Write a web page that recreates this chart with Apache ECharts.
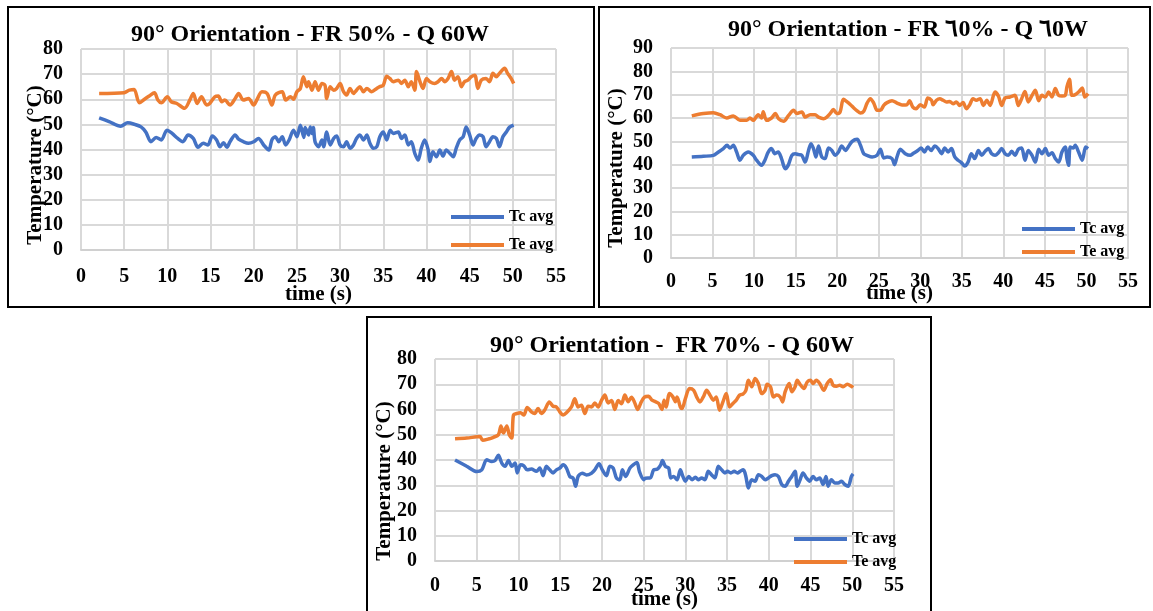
<!DOCTYPE html>
<html>
<head>
<meta charset="utf-8">
<script src="https://cdn.jsdelivr.net/npm/echarts@6/dist/echarts.min.js"></script>
<style>
  html, body { margin: 0; padding: 0; background: #fff; }
  #chart { width: 1153px; height: 611px; }
</style>
</head>
<body>
<div id="chart"></div>
<script>
// Panel titles
const titles = [
  '90° Orientation - FR 50% - Q 60W',
  '90° Orientation - FR ٦0% - Q ٦0W',
  '90° Orientation -  FR 70% - Q 60W'
];
const seriesNames = ['Tc avg', 'Te avg'];
const xTicks = { min: 0, max: 55, step: 5 };
const yMax = [80, 90, 80];

// FR 50% : [time (s), temperature (°C)]
const fr50Tc = [[2.1,52.6],[3.25,51.1],[4.6,49.3],[5.4,50.6],[6.2,50.0],[6.95,49.0],[7.5,47.0],[8.1,43.1],[8.7,44.8],[9.3,43.8],[9.95,47.7],[10.55,46.4],[11.2,44.4],[11.8,43.1],[12.4,45.8],[13.0,44.4],[13.55,40.9],[14.15,42.5],[14.7,41.8],[15.2,45.4],[15.7,43.8],[16.1,41.1],[16.5,42.7],[16.9,40.9],[17.25,43.1],[17.85,45.8],[18.25,44.1],[18.8,43.1],[19.4,42.5],[20.0,43.1],[20.55,44.4],[21.15,41.8],[21.75,39.8],[22.1,43.8],[22.5,45.1],[22.9,43.1],[23.3,45.1],[23.7,41.8],[24.1,43.8],[24.6,47.7],[25.0,45.1],[25.4,49.7],[25.8,44.8],[25.95,48.8],[26.35,45.8],[26.55,49.0],[26.75,46.4],[26.9,48.8],[27.1,43.1],[27.5,41.1],[27.9,43.8],[28.1,41.1],[28.45,47.0],[28.85,41.8],[29.25,44.4],[29.6,45.4],[30.0,41.8],[30.4,41.1],[30.75,43.1],[31.15,40.5],[31.55,41.8],[31.9,44.4],[32.3,45.8],[32.7,43.8],[33.1,45.8],[33.45,42.5],[33.85,40.5],[34.25,41.1],[34.6,45.1],[35.0,47.0],[35.4,43.8],[35.8,47.7],[36.15,46.4],[36.75,47.0],[37.1,44.4],[37.5,45.8],[37.9,41.8],[38.25,43.1],[38.65,38.5],[39.05,35.8],[39.4,40.5],[39.8,43.8],[40.2,39.8],[40.4,35.2],[40.75,39.1],[41.15,37.1],[41.55,39.8],[41.9,37.4],[42.3,39.8],[42.7,38.5],[43.1,37.1],[43.45,40.5],[43.85,43.8],[44.25,45.1],[44.6,49.0],[45.0,45.8],[45.4,41.8],[45.75,44.4],[46.15,45.8],[46.55,45.1],[46.9,41.1],[47.3,43.1],[47.7,45.1],[48.1,44.4],[48.45,41.1],[48.85,45.1],[49.25,47.0],[49.6,48.8],[50.1,49.7]];
const fr50Te = [[2.1,62.3],[5.0,62.6],[5.6,63.6],[6.15,63.9],[6.75,58.6],[7.35,60.0],[7.9,61.3],[8.5,62.6],[8.9,59.7],[9.3,58.6],[10.0,61.0],[10.45,59.0],[11.1,58.3],[12.0,56.4],[12.6,59.7],[13.0,62.3],[13.45,58.3],[13.95,61.0],[14.55,57.7],[14.9,58.3],[15.5,61.0],[15.9,61.3],[16.3,59.0],[16.65,59.7],[17.25,57.7],[17.85,60.3],[18.25,62.3],[18.8,59.7],[19.4,60.3],[20.0,57.7],[20.35,59.7],[20.95,63.0],[21.55,62.3],[22.1,57.7],[22.5,61.7],[23.3,63.0],[23.7,59.7],[24.25,61.0],[24.6,60.0],[25.0,63.0],[25.4,64.3],[25.75,69.0],[26.15,65.0],[26.35,67.0],[26.75,63.6],[27.1,67.0],[27.5,63.6],[27.9,66.3],[28.25,65.6],[28.45,60.3],[28.85,65.0],[29.25,63.6],[29.6,64.3],[30.0,66.3],[30.4,63.0],[30.75,61.7],[31.15,64.3],[31.55,62.3],[31.9,63.6],[32.3,65.0],[32.7,63.0],[33.1,64.3],[33.65,63.0],[34.25,64.3],[34.6,65.0],[35.0,65.6],[35.4,69.2],[35.75,68.3],[36.15,67.0],[36.75,67.6],[37.1,66.3],[37.5,67.6],[37.9,65.0],[38.25,67.0],[38.65,63.6],[38.85,71.0],[39.25,67.0],[39.6,64.3],[40.0,68.3],[40.4,67.0],[40.95,66.3],[41.35,67.0],[41.75,68.3],[42.1,67.0],[42.5,68.3],[42.9,71.0],[43.25,67.6],[43.65,69.0],[44.05,65.0],[44.4,67.0],[44.8,67.6],[45.2,69.0],[45.6,69.6],[45.95,64.3],[46.35,67.6],[46.9,68.3],[47.3,67.0],[47.7,70.3],[48.1,69.0],[48.45,70.3],[49.05,72.3],[49.4,70.3],[49.8,68.3],[50.1,66.3]];

// FR ٦0%
const fr60Tc = [[2.5,43.3],[3.9,43.6],[5.1,44.0],[5.7,45.4],[6.3,46.9],[6.75,48.3],[7.1,47.1],[7.5,48.3],[7.9,45.4],[8.3,41.9],[8.7,44.0],[9.3,45.4],[9.9,44.0],[10.3,41.9],[10.9,39.7],[11.3,41.9],[11.7,45.4],[12.1,46.9],[12.5,44.7],[12.9,45.4],[13.3,42.6],[13.75,38.3],[14.1,39.7],[14.55,44.0],[14.95,44.7],[15.35,44.3],[15.75,44.0],[16.15,41.1],[16.55,46.1],[16.85,49.0],[17.15,46.9],[17.45,43.3],[17.75,48.0],[18.15,43.3],[18.55,42.6],[18.95,47.1],[19.35,46.1],[19.75,44.0],[20.15,45.4],[20.55,48.0],[21.0,46.1],[21.4,48.0],[21.8,50.0],[22.4,50.9],[22.8,48.3],[23.2,44.7],[23.6,44.0],[24.2,43.3],[24.8,44.0],[25.2,46.6],[25.6,42.9],[26.0,43.3],[26.6,42.6],[26.9,40.0],[27.2,43.3],[27.6,46.6],[28.2,44.7],[28.8,44.0],[29.1,44.7],[29.7,46.1],[30.1,47.1],[30.5,45.4],[30.9,47.6],[31.3,46.1],[31.75,48.0],[32.15,46.9],[32.55,44.7],[32.95,47.1],[33.35,45.4],[33.75,46.9],[34.15,43.3],[34.55,41.9],[34.95,40.9],[35.35,39.4],[35.75,41.1],[36.15,44.7],[36.55,42.6],[37.0,46.1],[37.4,44.0],[37.8,45.7],[38.2,46.9],[38.6,44.7],[39.0,44.0],[39.4,45.1],[39.8,46.9],[40.2,44.7],[40.6,44.0],[41.0,45.7],[41.4,44.0],[41.8,46.6],[42.2,47.1],[42.6,41.9],[43.0,46.1],[43.45,44.0],[43.85,41.1],[44.25,46.6],[44.65,44.7],[45.05,46.9],[45.45,44.0],[45.85,45.1],[46.25,42.6],[46.65,41.1],[47.05,45.4],[47.45,47.6],[47.65,42.6],[47.85,39.7],[48.05,47.6],[48.4,47.1],[48.65,48.3],[49.05,45.4],[49.5,41.9],[49.9,47.6],[50.2,46.9]];
const fr60Te = [[2.5,60.9],[3.9,61.9],[5.1,62.3],[5.9,61.4],[6.7,60.0],[7.5,60.9],[8.3,59.0],[9.1,59.0],[9.5,60.0],[9.9,59.0],[10.5,61.4],[10.9,60.0],[11.1,62.7],[11.5,59.0],[12.1,60.0],[12.55,61.9],[12.95,59.7],[13.55,58.6],[14.15,61.1],[14.75,63.3],[15.15,61.9],[15.75,62.6],[16.15,60.4],[16.75,61.4],[17.35,61.4],[17.75,60.4],[18.35,59.7],[18.75,60.4],[19.15,61.9],[19.55,63.6],[19.95,61.9],[20.35,62.6],[20.75,68.0],[21.2,66.9],[21.6,65.7],[22.0,64.3],[22.4,63.1],[22.8,62.1],[23.2,62.9],[23.6,66.4],[24.0,68.3],[24.4,66.4],[24.8,63.3],[25.2,63.3],[25.6,65.4],[26.0,66.6],[26.6,67.4],[27.2,66.4],[27.8,65.6],[28.4,65.7],[28.7,67.4],[29.1,64.7],[29.5,64.0],[30.0,65.7],[30.5,64.7],[30.9,68.6],[31.35,67.6],[31.55,65.7],[31.95,67.6],[32.35,68.3],[32.75,67.6],[33.15,66.9],[33.55,67.1],[33.95,66.1],[34.35,66.9],[34.75,65.4],[35.15,66.6],[35.55,64.0],[35.95,65.7],[36.35,68.3],[36.75,67.6],[37.2,68.3],[37.6,65.4],[38.0,67.6],[38.4,65.4],[39.0,71.1],[39.4,69.4],[39.8,65.4],[40.2,68.6],[40.8,69.0],[41.4,69.7],[41.8,65.4],[42.2,68.3],[42.6,71.4],[43.0,66.9],[43.45,69.7],[43.85,71.9],[44.25,67.4],[44.65,69.7],[45.05,69.0],[45.45,71.1],[45.85,69.0],[46.25,72.6],[46.65,69.7],[47.05,69.4],[47.45,69.7],[47.65,73.3],[47.95,76.6],[48.25,69.7],[48.65,70.0],[49.05,71.1],[49.5,72.9],[49.8,69.0],[50.2,70.4]];

// FR 70%
const fr70Tc = [[2.4,40.0],[3.8,37.5],[5.0,35.4],[5.6,36.1],[6.2,40.1],[6.8,39.4],[7.2,39.8],[7.6,41.9],[8.0,38.8],[8.4,37.5],[8.8,39.8],[9.2,37.5],[9.6,38.8],[9.85,34.9],[10.25,38.1],[10.65,37.7],[11.05,36.1],[11.55,36.4],[12.15,35.5],[12.55,36.8],[12.95,33.8],[13.35,37.5],[13.75,36.1],[14.15,34.9],[14.55,36.1],[14.95,36.8],[15.35,38.1],[15.75,36.8],[16.15,33.5],[16.55,32.8],[16.85,29.6],[17.15,33.5],[17.65,34.8],[18.15,34.1],[18.75,34.8],[19.15,36.1],[19.65,38.5],[20.05,36.1],[20.55,33.8],[20.95,37.5],[21.35,36.8],[21.75,32.8],[22.15,32.2],[22.45,36.1],[22.85,33.5],[23.35,36.8],[23.75,38.1],[24.2,39.0],[24.5,35.4],[25.0,32.2],[25.2,32.8],[25.8,32.9],[26.2,36.1],[26.65,36.4],[27.05,38.1],[27.25,39.8],[27.6,37.5],[28.0,36.8],[28.25,32.9],[28.6,33.5],[29.0,32.2],[29.4,36.1],[29.7,33.5],[30.0,31.6],[30.4,33.5],[30.8,32.2],[31.2,33.2],[31.55,32.2],[31.95,32.9],[32.35,32.2],[32.75,35.5],[33.15,34.1],[33.55,32.9],[33.95,37.5],[34.35,36.1],[34.75,34.9],[35.05,35.5],[35.45,34.9],[35.85,35.5],[36.25,34.9],[36.55,35.5],[36.95,36.1],[37.25,33.5],[37.55,28.9],[37.95,32.2],[38.35,31.6],[38.75,34.2],[39.15,33.5],[39.55,32.2],[39.95,32.9],[40.35,33.8],[40.75,34.2],[41.15,33.5],[41.55,30.3],[41.95,29.6],[42.35,31.6],[42.75,33.5],[43.15,35.5],[43.4,29.6],[43.75,32.2],[44.1,34.9],[44.5,32.9],[44.9,31.6],[45.3,33.5],[45.7,32.2],[46.1,32.9],[46.5,30.3],[46.85,33.5],[47.1,29.6],[47.5,32.2],[47.9,30.9],[48.3,30.9],[48.7,31.6],[49.1,30.3],[49.5,29.6],[49.9,33.5],[50.1,34.5]];
const fr70Te = [[2.4,48.4],[3.8,48.7],[5.4,49.3],[5.7,47.8],[6.4,48.3],[7.0,49.0],[7.6,50.0],[7.9,53.5],[8.2,50.7],[8.6,53.5],[8.9,50.0],[9.2,48.7],[9.4,57.8],[9.8,58.4],[10.25,58.7],[10.65,57.8],[11.05,60.8],[11.55,59.1],[11.95,58.4],[12.35,60.4],[12.75,58.4],[13.15,59.8],[13.7,63.0],[14.15,61.3],[14.55,61.0],[14.95,59.1],[15.35,57.8],[15.75,58.7],[16.35,61.0],[16.75,64.3],[17.15,61.0],[17.55,61.7],[17.95,58.4],[18.35,61.3],[18.75,61.0],[19.15,62.6],[19.55,61.0],[19.95,63.6],[20.35,65.7],[20.75,62.6],[21.15,63.6],[21.55,60.0],[21.95,63.6],[22.35,62.3],[22.75,65.7],[23.15,63.1],[23.55,64.9],[23.9,62.9],[24.3,60.0],[24.7,62.9],[25.1,64.9],[25.6,65.2],[26.0,63.7],[26.4,63.1],[26.8,62.4],[27.2,60.0],[27.45,63.7],[27.7,61.0],[28.1,66.3],[28.5,65.0],[28.8,63.1],[29.0,65.0],[29.4,61.0],[29.6,60.4],[30.0,64.3],[30.5,68.3],[31.0,67.6],[31.35,65.0],[31.75,63.0],[32.15,65.0],[32.55,67.6],[32.95,65.7],[33.35,63.7],[33.7,65.0],[34.1,59.7],[34.5,63.0],[34.9,66.3],[35.3,61.0],[35.7,62.4],[36.1,63.7],[36.5,65.7],[36.9,66.1],[37.25,67.6],[37.55,71.6],[37.95,69.0],[38.35,72.3],[38.75,70.3],[39.15,66.3],[39.55,67.6],[39.8,70.0],[40.2,69.0],[40.55,65.0],[40.95,65.7],[41.35,65.0],[41.65,63.0],[41.95,67.0],[42.45,70.3],[42.75,67.0],[43.15,69.0],[43.4,71.6],[43.8,69.7],[44.2,68.3],[44.6,70.9],[45.0,71.6],[45.3,70.3],[45.7,71.6],[46.1,70.3],[46.6,67.6],[47.0,70.3],[47.4,71.8],[47.7,69.6],[48.1,69.2],[48.5,69.6],[48.9,69.0],[49.4,70.0],[49.9,69.2],[50.1,68.7]];

const panelData = [[fr50Tc, fr50Te], [fr60Tc, fr60Te], [fr70Tc, fr70Te]];

// Layout of the three chart boxes
const FONT = '"Liberation Serif", "Times New Roman", serif';
const colors = ['#4472C4', '#ED7D31'];
const panels = [
  { box: [8, 7, 586, 300],  grid: [81, 49, 475, 201],  xMargin: 17, xGap: 34, title: [310, 35],
    yName: [36, 165], legend: [446, 204, 12] },
  { box: [599, 7, 551, 300], grid: [671, 48, 457, 210], xMargin: 14, xGap: 25, title: [908, 30],
    yName: [617, 168], legend: [1017, 216, 7] },
  { box: [367, 317, 564, 310], grid: [435, 359, 459, 203], xMargin: 15, xGap: 28, title: [672, 346],
    yName: [385, 481], legend: [789, 526, 7] }
];

const grids = [], xAxes = [], yAxes = [], series = [], legends = [], graphics = [];

panels.forEach((p, i) => {
  grids.push({ left: p.grid[0], top: p.grid[1], width: p.grid[2], height: p.grid[3], containLabel: false });
  xAxes.push({
    type: 'value', gridIndex: i, min: xTicks.min, max: xTicks.max, interval: xTicks.step,
    name: 'time (s)', nameLocation: 'middle', nameGap: p.xGap, nameMoveOverlap: false,
    nameTextStyle: { fontFamily: FONT, fontWeight: 'bold', fontSize: 21, color: '#000' },
    axisLine: { show: true, lineStyle: { color: '#d0d0d0', width: 2 } },
    axisTick: { show: false },
    axisLabel: { margin: p.xMargin, fontFamily: FONT, fontWeight: 'bold', fontSize: 20, color: '#000' },
    splitLine: { show: true, lineStyle: { color: '#d9d9d9', width: 2 } }
  });
  yAxes.push({
    type: 'value', gridIndex: i, min: 0, max: yMax[i], interval: 10,
    axisLine: { show: false }, axisTick: { show: false },
    axisLabel: { margin: 18, fontFamily: FONT, fontWeight: 'bold', fontSize: 20, color: '#000' },
    splitLine: { show: true, lineStyle: { color: '#d9d9d9', width: 2 } }
  });
  panelData[i].forEach((d, k) => {
    series.push({
      name: seriesNames[k], type: 'line', xAxisIndex: i, yAxisIndex: i,
      data: d, showSymbol: false, smooth: 0.3,
      lineStyle: { color: colors[k], width: 3.5 }, itemStyle: { color: colors[k] },
      emphasis: { disabled: true }
    });
  });
  legends.push({
    orient: 'vertical', left: p.legend[0], top: p.legend[1], itemGap: p.legend[2],
    itemWidth: 53, itemHeight: 4, icon: 'rect', data: seriesNames,
    textStyle: { fontFamily: FONT, fontWeight: 'bold', fontSize: 16, lineHeight: 16, color: '#000' }
  });
  graphics.push({
    type: 'rect', shape: { x: p.box[0], y: p.box[1], width: p.box[2], height: p.box[3] },
    style: { fill: 'none', stroke: '#000', lineWidth: 2 }, silent: true
  });
  graphics.push({
    type: 'text', x: p.title[0], y: p.title[1],
    style: { text: titles[i], fontFamily: FONT, fontWeight: 'bold', fontSize: 24,
             fill: '#000', textAlign: 'center', textVerticalAlign: 'middle' }
  });
  graphics.push({
    type: 'text', x: p.yName[0], y: p.yName[1], rotation: Math.PI / 2,
    style: { text: 'Temperature (°C)', fontFamily: FONT, fontWeight: 'bold', fontSize: 21,
             fill: '#000', textAlign: 'center', textVerticalAlign: 'middle' }
  });
});

const chart = echarts.init(document.getElementById('chart'), null, { renderer: 'canvas' });
chart.setOption({
  animation: false,
  backgroundColor: '#fff',
  grid: grids, xAxis: xAxes, yAxis: yAxes, series: series, legend: legends,
  graphic: graphics
});
</script>
</body>
</html>
